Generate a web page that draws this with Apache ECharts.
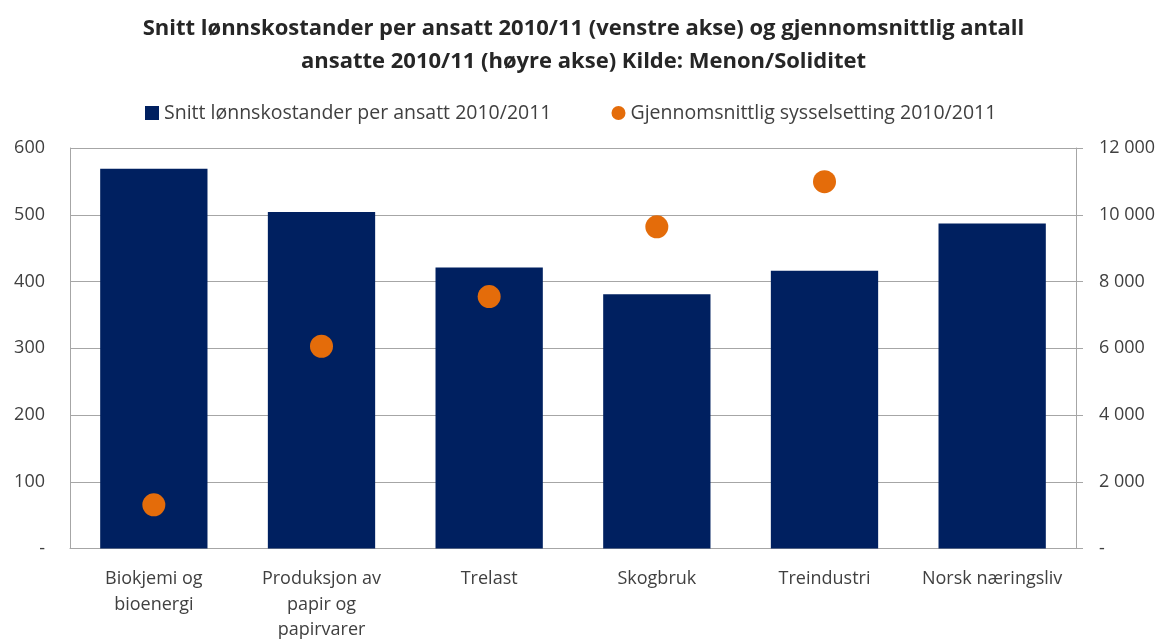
<!DOCTYPE html>
<html>
<head>
<meta charset="utf-8">
<script src="https://cdn.jsdelivr.net/npm/echarts@6/dist/echarts.min.js"></script>
<style>
  html, body { margin: 0; padding: 0; background: #fff; }
  #chart { width: 1167px; height: 643px; }
</style>
</head>
<body>
<div id="chart"></div>
<script>
const categories = [
  "Biokjemi og\nbioenergi",
  "Produksjon av\npapir og\npapirvarer",
  "Trelast",
  "Skogbruk",
  "Treindustri",
  "Norsk næringsliv"
];
const lonnskostnad = [569, 504, 421, 381, 416, 487];
const sysselsetting = [1310, 6060, 7550, 9640, 10990, null];

const font = "'Open Sans', 'Noto Sans', sans-serif";
const textColor = "#404040";

function fmtThousands(v) {
  if (v === 0) return "-";
  return String(v).replace(/\B(?=(\d{3})+(?!\d))/g, " ");
}

const chart = echarts.init(document.getElementById("chart"));
chart.setOption({
  animation: false,
  title: {
    text: "Snitt lønnskostander per ansatt 2010/11 (venstre akse) og gjennomsnittlig antall\nansatte 2010/11 (høyre akse) Kilde: Menon/Soliditet",
    left: "center",
    top: 7,
    textStyle: {
      fontFamily: font,
      fontWeight: "bold",
      fontSize: 22,
      color: "#262626",
      lineHeight: 33
    }
  },
  legend: {
    top: 98,
    left: 140,
    itemGap: 60,
    itemWidth: 14,
    itemHeight: 14,
    textStyle: { fontFamily: font, fontSize: 19.5, color: textColor },
    data: [
      { name: "Snitt lønnskostander per ansatt 2010/2011", icon: "rect" },
      { name: "Gjennomsnittlig sysselsetting 2010/2011", icon: "circle" }
    ]
  },
  grid: { left: 70, right: 91, top: 148, bottom: 94 },
  xAxis: {
    type: "category",
    data: categories,
    axisLine: { lineStyle: { color: "#a6a6a6" } },
    axisTick: { show: false },
    axisLabel: {
      fontFamily: font,
      fontSize: 18,
      color: textColor,
      lineHeight: 25.5,
      margin: 18,
      interval: 0
    }
  },
  yAxis: [
    {
      type: "value",
      min: 0,
      max: 600,
      interval: 100,
      axisLine: { show: true, lineStyle: { color: "#a6a6a6" } },
      axisTick: { show: false },
      splitLine: { lineStyle: { color: "#a6a6a6" } },
      axisLabel: {
        fontFamily: font,
        fontSize: 18,
        color: textColor,
        margin: 25,
        formatter: v => (v === 0 ? "-" : String(v))
      }
    },
    {
      type: "value",
      min: 0,
      max: 12000,
      interval: 2000,
      position: "right",
      axisLine: { show: true, lineStyle: { color: "#a6a6a6" } },
      axisTick: { show: true, length: 7, lineStyle: { color: "#a6a6a6" } },
      splitLine: { show: false },
      axisLabel: {
        fontFamily: font,
        fontSize: 18,
        color: textColor,
        margin: 23,
        formatter: fmtThousands
      }
    }
  ],
  series: [
    {
      name: "Snitt lønnskostander per ansatt 2010/2011",
      type: "bar",
      data: lonnskostnad,
      barCategoryGap: "36%",
      itemStyle: { color: "#002060" }
    },
    {
      name: "Gjennomsnittlig sysselsetting 2010/2011",
      type: "scatter",
      yAxisIndex: 1,
      data: sysselsetting,
      symbol: "circle",
      symbolSize: 23,
      itemStyle: { color: "#e46c0a", opacity: 1 },
      z: 3
    }
  ]
});
</script>
</body>
</html>
